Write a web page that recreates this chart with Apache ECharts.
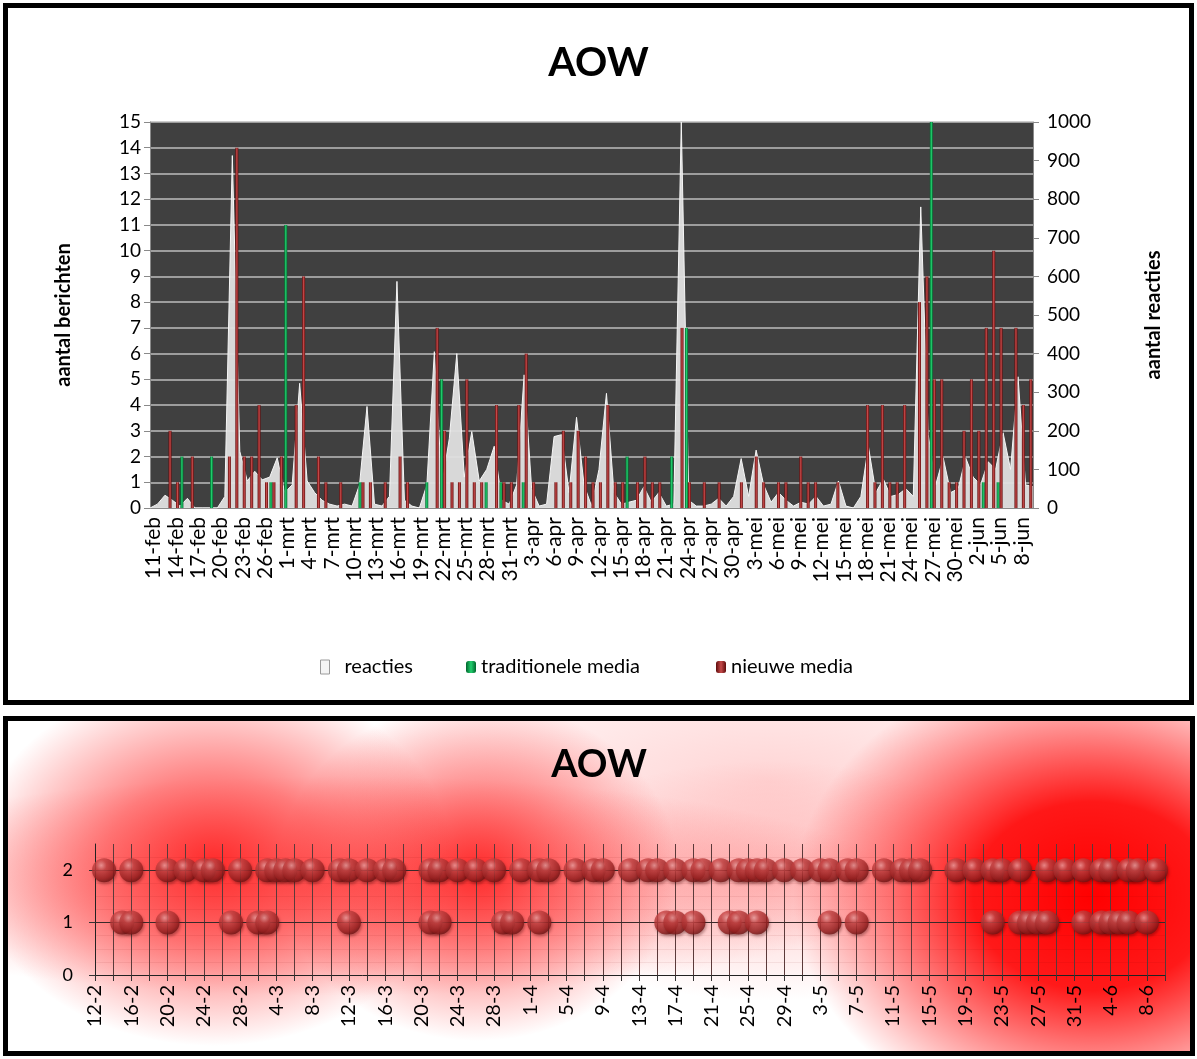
<!DOCTYPE html>
<html>
<head>
<meta charset="utf-8">
<script src="https://cdn.jsdelivr.net/npm/echarts@6/dist/echarts.min.js"></script>
<style>
html,body{margin:0;padding:0;background:#fff;width:1197px;height:1059px;overflow:hidden;}
#frameTop{position:absolute;left:3px;top:3px;width:1181px;height:692px;border:5px solid #000;background:#fff;}
#frameBottom{position:absolute;left:3px;top:716px;width:1182px;height:330px;border:5px solid #000;
  background:
    radial-gradient(ellipse 240px 185px at 205px 140px, rgba(255,20,20,0.85) 0%, rgba(255,30,30,0.55) 45%, rgba(255,60,60,0) 100%),
    radial-gradient(ellipse 200px 170px at 470px 150px, rgba(255,20,20,0.85) 0%, rgba(255,30,30,0.5) 45%, rgba(255,60,60,0) 100%),
    radial-gradient(ellipse 300px 235px at 1085px 175px, rgba(255,0,0,1) 0%, rgba(255,0,0,0.9) 40%, rgba(255,40,40,0) 100%),
    radial-gradient(ellipse 560px 110px at 330px 165px, rgba(255,30,30,0.45) 0%, rgba(255,40,40,0) 100%),
    radial-gradient(ellipse 260px 120px at 760px 160px, rgba(255,70,70,0.28) 0%, rgba(255,70,70,0) 100%),
    radial-gradient(ellipse 420px 170px at 760px 60px, rgba(255,60,60,0.22) 0%, rgba(255,60,60,0) 100%),
    #fff;}
#chartTop,#chartBottom{width:100%;height:100%;}
</style>
</head>
<body>
<div id="frameTop"><div id="chartTop"></div></div>
<div id="frameBottom"><div id="chartBottom"></div></div>
<script>
// ---------- data: top chart ----------
const topDates = (
 "11-feb 12-feb 13-feb 14-feb 15-feb 16-feb 17-feb 18-feb 19-feb 20-feb 21-feb 22-feb 23-feb 24-feb 25-feb 26-feb 27-feb 28-feb " +
 "1-mrt 2-mrt 3-mrt 4-mrt 5-mrt 6-mrt 7-mrt 8-mrt 9-mrt 10-mrt 11-mrt 12-mrt 13-mrt 14-mrt 15-mrt 16-mrt 17-mrt 18-mrt 19-mrt 20-mrt 21-mrt 22-mrt 23-mrt 24-mrt 25-mrt 26-mrt 27-mrt 28-mrt 29-mrt 30-mrt 31-mrt " +
 "1-apr 2-apr 3-apr 4-apr 5-apr 6-apr 7-apr 8-apr 9-apr 10-apr 11-apr 12-apr 13-apr 14-apr 15-apr 16-apr 17-apr 18-apr 19-apr 20-apr 21-apr 22-apr 23-apr 24-apr 25-apr 26-apr 27-apr 28-apr 29-apr 30-apr " +
 "1-mei 2-mei 3-mei 4-mei 5-mei 6-mei 7-mei 8-mei 9-mei 10-mei 11-mei 12-mei 13-mei 14-mei 15-mei 16-mei 17-mei 18-mei 19-mei 20-mei 21-mei 22-mei 23-mei 24-mei 25-mei 26-mei 27-mei 28-mei 29-mei 30-mei 31-mei " +
 "1-jun 2-jun 3-jun 4-jun 5-jun 6-jun 7-jun 8-jun 9-jun").split(" ");

const reacties = [
 0,10,33,20,5,25,0,0,0,0,
 30,913,147,70,95,73,80,130,40,60,
 323,70,40,20,10,5,10,5,60,263,
 10,5,30,587,20,5,0,60,405,60,
 180,400,80,198,70,100,160,20,10,60,
 345,50,5,10,185,190,40,235,60,5,
 100,297,40,10,15,20,55,15,40,5,
 10,1000,20,5,5,10,25,5,30,128,
 30,150,60,15,40,20,5,15,10,30,
 5,10,70,5,0,30,160,40,75,30,
 35,50,30,780,190,60,130,40,50,130,
 80,60,120,100,195,100,340,60,55];

const traditioneleMedia = [
 0,0,0,0,2,0,0,0,2,0,
 0,0,0,0,0,0,1,0,11,0,
 0,0,0,0,0,0,0,0,1,0,
 0,0,0,0,0,0,0,1,0,5,
 0,0,0,0,0,1,0,1,0,0,
 1,0,0,0,0,0,0,0,0,0,
 0,0,0,0,2,0,0,0,0,0,
 2,0,7,0,0,0,0,0,0,0,
 0,0,0,0,0,0,0,0,0,0,
 0,0,0,0,0,0,0,0,0,0,
 0,0,0,0,0,15,0,0,0,0,
 0,0,1,0,1,0,0,0,0];

const nieuweMedia = [
 0,0,3,1,0,2,0,0,0,0,
 2,14,2,2,4,1,1,2,0,4,
 9,0,2,1,0,1,0,0,1,1,
 0,1,0,2,1,0,0,0,7,3,
 1,1,5,1,1,0,4,1,1,4,
 6,1,0,0,1,3,1,3,2,1,
 1,4,1,1,0,1,2,1,1,0,
 0,7,1,0,1,0,1,0,0,1,
 0,2,1,0,1,1,0,2,1,1,
 0,0,1,0,0,0,4,1,4,1,
 1,4,0,8,9,5,5,1,1,3,
 5,3,7,10,7,0,7,4,5];

// ---------- data: bottom chart ----------
const bottomDates = (
 "12-2 13-2 14-2 15-2 16-2 17-2 18-2 19-2 20-2 21-2 22-2 23-2 24-2 25-2 26-2 27-2 28-2 " +
 "1-3 2-3 3-3 4-3 5-3 6-3 7-3 8-3 9-3 10-3 11-3 12-3 13-3 14-3 15-3 16-3 17-3 18-3 19-3 20-3 21-3 22-3 23-3 24-3 25-3 26-3 27-3 28-3 29-3 30-3 31-3 " +
 "1-4 2-4 3-4 4-4 5-4 6-4 7-4 8-4 9-4 10-4 11-4 12-4 13-4 14-4 15-4 16-4 17-4 18-4 19-4 20-4 21-4 22-4 23-4 24-4 25-4 26-4 27-4 28-4 29-4 30-4 " +
 "1-5 2-5 3-5 4-5 5-5 6-5 7-5 8-5 9-5 10-5 11-5 12-5 13-5 14-5 15-5 16-5 17-5 18-5 19-5 20-5 21-5 22-5 23-5 24-5 25-5 26-5 27-5 28-5 29-5 30-5 31-5 " +
 "1-6 2-6 3-6 4-6 5-6 6-6 7-6 8-6 9-6 10-6").split(" ");

// day indexes (into bottomDates) with a bubble at level 2 and at level 1
const level2Days = [1,4,8,10,12,13,16,19,20,21,22,24,27,28,30,32,33,37,38,40,42,44,47,49,50,53,55,56,59,61,62,64,66,67,69,71,72,73,74,76,78,80,81,83,84,87,89,90,91,95,97,99,100,102,105,107,109,111,112,114,115,117];
const level1Days = [3,4,8,15,18,19,28,37,38,45,46,49,63,64,66,70,71,73,81,84,99,102,103,104,105,109,111,112,113,114,116];
const bubbleLevels = [1, 2];

// ---------- top chart ----------
const FONT = 'Lato';
const topChart = echarts.init(document.getElementById('chartTop'));
const greenGrad = new echarts.graphic.LinearGradient(0,0,1,0,[
  {offset:0,color:'#00652c'},{offset:0.5,color:'#22cf6e'},{offset:1,color:'#00652c'}]);
const redGrad = new echarts.graphic.LinearGradient(0,0,1,0,[
  {offset:0,color:'#5e0b0b'},{offset:0.5,color:'#c64a4a'},{offset:1,color:'#5e0b0b'}]);

topChart.setOption({
  backgroundColor:'#fff',
  animation:false,
  textStyle:{fontFamily:FONT},
  title:{text:'AOW', left:'center', top:30,
    textStyle:{fontFamily:FONT, fontSize:40, fontWeight:'bold', color:'#000'}},
  legend:[
    {data:[{name:'reacties', icon:'rect', itemStyle:{color:'#f4f4f4', borderColor:'#9a9a9a', borderWidth:1}}],
     left:307, top:644, itemWidth:9, itemHeight:14,
     textStyle:{fontFamily:FONT, fontSize:20, color:'#000', padding:[0,0,0,10]}},
    {data:['traditionele media'], left:453, top:644, itemWidth:10, itemHeight:12,
     textStyle:{fontFamily:FONT, fontSize:20, color:'#000'}},
    {data:['nieuwe media'], left:703, top:644, itemWidth:10, itemHeight:12,
     textStyle:{fontFamily:FONT, fontSize:20, color:'#000'}}
  ],
  grid:{left:142, right:156, top:114, bottom:192, show:true, backgroundColor:'#404040', borderWidth:0},
  xAxis:[
    {type:'category', data:topDates, boundaryGap:true,
     axisLine:{lineStyle:{color:'#8a8a8a'}},
     axisTick:{interval:2, length:6, lineStyle:{color:'#8a8a8a'}},
     axisLabel:{interval:2, rotate:90, fontSize:21, color:'#000', margin:9, fontFamily:FONT}},
    {type:'category', data:topDates, boundaryGap:false, show:false}
  ],
  yAxis:[
    {type:'value', min:0, max:15, interval:1,
     name:'aantal berichten', nameLocation:'middle', nameRotate:90, nameGap:76,
     nameTextStyle:{fontFamily:FONT, fontSize:20, fontWeight:'bold', color:'#000'},
     axisLine:{show:true, lineStyle:{color:'#8a8a8a'}},
     axisTick:{show:true, length:6, lineStyle:{color:'#8a8a8a'}},
     axisLabel:{fontSize:19, color:'#000', margin:9, fontFamily:FONT},
     splitLine:{show:true, lineStyle:{color:'#bcbcbc', width:1.5}}},
    {type:'value', min:0, max:1000, interval:100, position:'right',
     name:'aantal reacties', nameLocation:'middle', nameRotate:90, nameGap:111,
     nameTextStyle:{fontFamily:FONT, fontSize:20, fontWeight:'bold', color:'#000'},
     axisLine:{show:true, lineStyle:{color:'#8a8a8a'}},
     axisTick:{show:true, length:6, lineStyle:{color:'#8a8a8a'}},
     axisLabel:{fontSize:19, color:'#000', margin:14, fontFamily:FONT, formatter: v => String(v)},
     splitLine:{show:false}}
  ],
  series:[
    {name:'reacties', type:'line', xAxisIndex:1, yAxisIndex:1, data:reacties,
     symbol:'none', lineStyle:{color:'#f6f6f6', width:1},
     areaStyle:{color:'#e0e0e0', opacity:0.95}, z:1},
    {name:'traditionele media', type:'bar', data:traditioneleMedia, barWidth:3, barGap:'0%',
     itemStyle:{color:greenGrad}, z:3},
    {name:'nieuwe media', type:'bar', data:nieuweMedia, barWidth:3,
     itemStyle:{color:redGrad}, z:3}
  ]
});

// ---------- bottom chart ----------
const bottomChart = echarts.init(document.getElementById('chartBottom'));
const bubbleData = level2Days.map(d => [d, bubbleLevels[1]]).concat(level1Days.map(d => [d, bubbleLevels[0]]));
const sphere = new echarts.graphic.RadialGradient(0.38, 0.3, 0.75, [
  {offset:0, color:'#f4a3a3'},
  {offset:0.3, color:'#c94646'},
  {offset:0.75, color:'#9c2222'},
  {offset:1, color:'#651010'}]);

bottomChart.setOption({
  backgroundColor:'transparent',
  animation:false,
  textStyle:{fontFamily:FONT},
  title:{text:'AOW', left:'center', top:20,
    textStyle:{fontFamily:FONT, fontSize:38, fontWeight:'bold', color:'#000'}},
  grid:{left:87, right:25, top:123, bottom:76},
  xAxis:{type:'category', data:bottomDates, boundaryGap:false,
    axisLine:{lineStyle:{color:'#222', width:1}},
    axisTick:{interval:1, length:6, lineStyle:{color:'#333'}},
    axisLabel:{interval:3, rotate:90, fontSize:20, color:'#000', margin:10, fontFamily:FONT},
    splitLine:{show:true, interval:1, lineStyle:{color:'#5b3a3a', width:1}}},
  yAxis:{type:'value', min:0, max:2.5, interval:1,
    axisLine:{show:true, lineStyle:{color:'#222'}},
    axisTick:{show:true, length:6, lineStyle:{color:'#333'}},
    axisLabel:{fontSize:18, color:'#000', margin:22, showMaxLabel:false, fontFamily:FONT,
      formatter: v => (Number.isInteger(v) ? String(v) : '')},
    splitLine:{show:false},
    minorTick:{show:false, splitNumber:4},
    minorSplitLine:{show:true, lineStyle:{color:'rgba(110,0,0,0.07)', width:1}}},
  series:[
    {type:'scatter', data:[], silent:true, z:1,
     markLine:{silent:true, symbol:'none', label:{show:false},
       lineStyle:{color:'#3a2a2a', width:1, type:'solid'},
       data: bubbleLevels.map(l => ({yAxis:l}))}},
    {type:'scatter', data:bubbleData, symbolSize:24, z:5,
     itemStyle:{color:sphere, shadowBlur:3, shadowColor:'rgba(60,0,0,0.45)', shadowOffsetY:2, shadowOffsetX:1}}
  ]
});
</script>
</body>
</html>
